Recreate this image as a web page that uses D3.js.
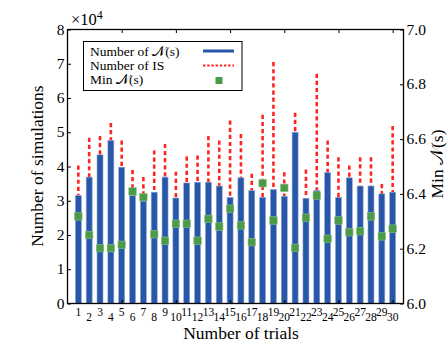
<!DOCTYPE html>
<html>
<head>
<meta charset="utf-8">
<script src="https://cdn.jsdelivr.net/npm/d3@7"></script>
<style>
  body { margin: 0; background: #fff; }
  svg { display: block; }
  text { font-family: "Liberation Serif", "Times New Roman", serif; fill: #000; }
</style>
</head>
<body>
<svg id="chart" width="447" height="344"></svg>
<script>
// trial index on the x axis
const trials = [1, 2, 3, 4, 5, 6, 7, 8, 9, 10, 11, 12, 13, 14, 15,
  16, 17, 18, 19, 20, 21, 22, 23, 24, 25, 26, 27, 28, 29, 30];

// number of N(s) simulations, x10^4 (left axis)
const numNs = [3.15, 3.69, 4.34, 4.76, 3.98, 3.15, 2.99, 3.25, 3.69, 3.08,
  3.52, 3.54, 3.54, 3.43, 3.10, 3.67, 3.30, 3.10, 3.33, 3.13,
  5.00, 3.07, 3.30, 3.82, 3.10, 3.67, 3.43, 3.43, 3.20, 3.25];

// number of IS simulations, x10^4 (left axis)
const numIS = [4.03, 4.84, 4.89, 5.27, 4.76, 3.90, 3.69, 4.47, 4.66, 3.85,
  4.29, 4.32, 4.89, 4.76, 5.34, 4.95, 3.79, 5.51, 7.05, 3.83,
  5.57, 3.91, 6.71, 4.76, 4.27, 4.03, 4.27, 4.27, 3.49, 5.18];

// min N(s) (right axis)
const minNs = [6.318, 6.250, 6.202, 6.202, 6.214, 6.409, 6.388, 6.253, 6.229, 6.291,
  6.291, 6.229, 6.309, 6.281, 6.346, 6.285, 6.224, 6.439, 6.303, 6.422,
  6.203, 6.313, 6.394, 6.236, 6.303, 6.260, 6.264, 6.318, 6.245, 6.273];

const leftTicks = [0, 1, 2, 3, 4, 5, 6, 7, 8];
const rightTicks = [6.0, 6.2, 6.4, 6.6, 6.8, 7.0];
const legendLabels = ["Number of \u{1D4A9}(s)", "Number of IS", "Min \u{1D4A9}(s)"];

const blue = "#2856a8", red = "#ff2424", green = "#4a9a48";
const margin = { top: 29.5, right: 43.5, bottom: 40.5, left: 67.5 };
const width = 447, height = 344;

const svg = d3.select("#chart");

const x = d3.scaleLinear()
  .domain([0, trials.length + 1])
  .range([margin.left, width - margin.right]);

const y = d3.scaleLinear()
  .domain([0, 8])
  .range([height - margin.bottom, margin.top]);

const y2 = d3.scaleLinear()
  .domain([6, 7])
  .range([height - margin.bottom, margin.top]);

// red dotted: IS on top of N(s)
svg.append("g")
  .selectAll("line")
  .data(trials)
  .join("line")
  .attr("x1", d => x(d))
  .attr("x2", d => x(d))
  .attr("y1", (d, i) => y(numIS[i]))
  .attr("y2", (d, i) => y(numNs[i]))
  .attr("stroke", red)
  .attr("stroke-width", 2.6)
  .attr("stroke-dasharray", "4.2,2.9");

// blue bars
const bw = 6;
svg.append("g")
  .selectAll("rect")
  .data(trials)
  .join("rect")
  .attr("x", d => x(d) - bw / 2)
  .attr("y", (d, i) => y(numNs[i]))
  .attr("width", bw)
  .attr("height", (d, i) => y(0) - y(numNs[i]))
  .attr("fill", blue)
  .attr("stroke", "#8fa9d6")
  .attr("stroke-width", 0.6);

// green squares on the right scale
const sq = 7.5;
svg.append("g")
  .selectAll("rect")
  .data(trials)
  .join("rect")
  .attr("x", d => x(d) - sq / 2)
  .attr("y", (d, i) => y2(minNs[i]) - sq / 2)
  .attr("width", sq)
  .attr("height", sq)
  .attr("fill", green)
  .attr("stroke", "#8cc48a")
  .attr("stroke-width", 0.6);

// axes
const tickLen = 3.5;
const styleAxis = g => {
  g.select(".domain").remove();
  g.selectAll(".tick line").attr("stroke", "#000").attr("stroke-width", 1);
};

svg.append("g")
  .attr("transform", `translate(${margin.left},0)`)
  .call(d3.axisRight(y).tickValues(leftTicks).tickSize(tickLen).tickFormat(""))
  .call(styleAxis);
svg.append("g")
  .selectAll("text")
  .data(leftTicks)
  .join("text")
  .attr("x", margin.left - 3)
  .attr("y", d => y(d) + 5)
  .attr("text-anchor", "end")
  .style("font-size", "15.5px")
  .text(d => d);

svg.append("g")
  .attr("transform", `translate(${width - margin.right},0)`)
  .call(d3.axisLeft(y2).tickValues(rightTicks).tickSize(tickLen).tickFormat(""))
  .call(styleAxis);
svg.append("g")
  .selectAll("text")
  .data(rightTicks)
  .join("text")
  .attr("x", width - margin.right + 3)
  .attr("y", d => y2(d) + 5)
  .style("font-size", "15.5px")
  .text(d => d3.format(".1f")(d));

svg.append("g")
  .attr("transform", `translate(0,${margin.top})`)
  .call(d3.axisBottom(x).tickValues([5, 10, 15, 20, 25, 30]).tickSize(tickLen).tickFormat(""))
  .call(styleAxis);
svg.append("g")
  .attr("transform", `translate(0,${height - margin.bottom})`)
  .call(d3.axisTop(x).tickValues([5, 10, 15, 20, 25, 30]).tickSize(tickLen).tickFormat(""))
  .call(styleAxis);

// x tick labels, staggered
svg.append("g")
  .selectAll("text")
  .data(trials)
  .join("text")
  .attr("x", d => x(d))
  .attr("y", d => d % 2 ? 315.5 : 321)
  .attr("text-anchor", "middle")
  .style("font-size", "11.5px")
  .text(d => d);

// frame
svg.append("rect")
  .attr("x", margin.left)
  .attr("y", margin.top)
  .attr("width", width - margin.left - margin.right)
  .attr("height", height - margin.top - margin.bottom)
  .attr("fill", "none")
  .attr("stroke", "#000")
  .attr("stroke-width", 1.3);

// exponent label
const exp = svg.append("text").attr("x", 71).attr("y", 24.5).style("font-size", "16.5px");
exp.append("tspan").text("\u00d710");
exp.append("tspan").attr("dy", -6).style("font-size", "12px").text("4");

// axis titles
svg.append("text")
  .attr("transform", "translate(42.5,166) rotate(-90)")
  .attr("text-anchor", "middle")
  .style("font-size", "17.5px")
  .text("Number of simulations");

svg.append("text")
  .attr("x", 241)
  .attr("y", 339)
  .attr("text-anchor", "middle")
  .style("font-size", "17.5px")
  .text("Number of trials");

svg.append("text")
  .attr("transform", "translate(443,164) rotate(-90)")
  .attr("text-anchor", "middle")
  .style("font-size", "17.5px")
  .text("Min \u{1D4A9}(s)");

// legend
const lg = svg.append("g");
lg.append("rect")
  .attr("x", 83.5).attr("y", 41.5)
  .attr("width", 158.5).attr("height", 49)
  .attr("fill", "#fff")
  .attr("stroke", "#000")
  .attr("stroke-width", 1);
lg.selectAll("text")
  .data(legendLabels)
  .join("text")
  .attr("x", 90)
  .attr("y", (d, i) => 55.5 + i * 14.3)
  .style("font-size", "13.5px")
  .text(d => d);
lg.append("line")
  .attr("x1", 203).attr("x2", 234).attr("y1", 51).attr("y2", 51)
  .attr("stroke", blue).attr("stroke-width", 3);
lg.append("line")
  .attr("x1", 203).attr("x2", 234).attr("y1", 65.5).attr("y2", 65.5)
  .attr("stroke", red).attr("stroke-width", 2.2)
  .attr("stroke-dasharray", "2.4,1.8");
lg.append("rect")
  .attr("x", 215.5).attr("y", 77).attr("width", 7).attr("height", 7)
  .attr("fill", green);
</script>
</body>
</html>
